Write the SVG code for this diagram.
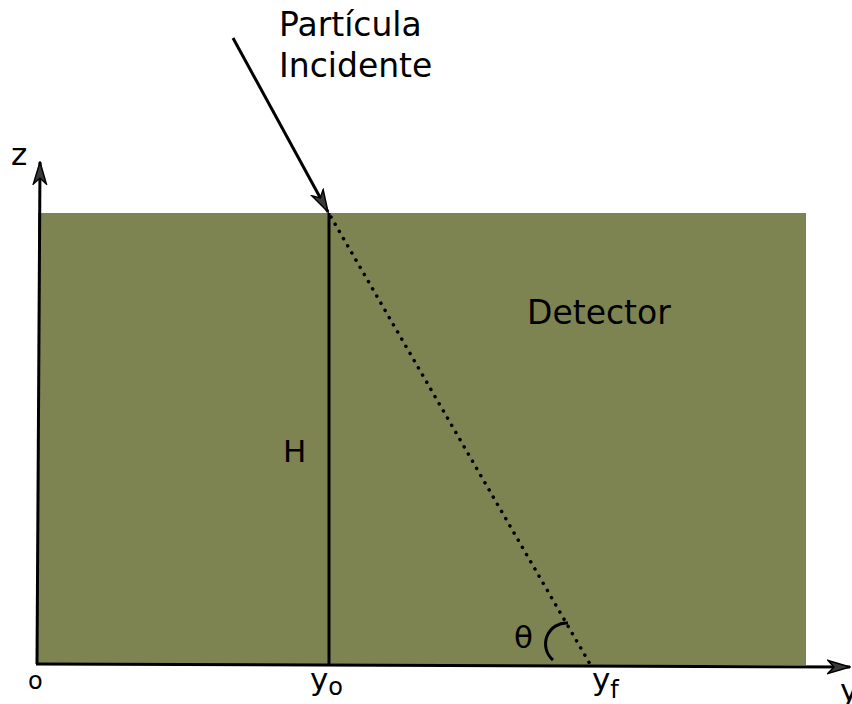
<svg xmlns="http://www.w3.org/2000/svg" width="852" height="704" viewBox="0 0 852 704">
<style>
text{font-family:"DejaVu Sans",sans-serif;fill:#000}
.ax{stroke:#000;stroke-width:3;fill:none}
</style>
<defs>
<marker id="ah" viewBox="0 0 24 16" refX="23" refY="8" markerWidth="24" markerHeight="16" markerUnits="userSpaceOnUse" orient="auto">
<path d="M1 1.5 L23 8 L1 14.5 L7 8 Z" fill="#3a3a3a" stroke="#000" stroke-width="1.5" stroke-linejoin="miter"/>
</marker>
</defs>
<rect width="852" height="704" fill="#fff"/>
<g id="detector">
<rect x="38" y="213" width="768" height="452" fill="#7d8452"/>
<text x="527" y="324" font-size="33">Detector</text>
</g>
<g id="connectors">
<line class="ax" x1="37" y1="664" x2="40" y2="162" marker-end="url(#ah)"/>
<line class="ax" x1="36" y1="664" x2="850" y2="667" marker-end="url(#ah)"/>
<line class="ax" x1="233" y1="38" x2="328" y2="212" marker-end="url(#ah)"/>
<line x1="329" y1="213" x2="329" y2="664" stroke="#000" stroke-width="3"/>
<line x1="331" y1="217" x2="590" y2="664" stroke="#000" stroke-width="3.5" stroke-linecap="round" stroke-dasharray="0.1 8.2"/>
<path d="M568 623 A21 21 0 0 0 553 660" class="ax"/>
</g>
<g id="labels">
<text x="279" y="36" font-size="33">Partícula</text>
<text x="279" y="77" font-size="33">Incidente</text>
<text x="11" y="165" font-size="31">z</text>
<text x="283" y="462" font-size="31">H</text>
<text x="514" y="648" font-size="31">θ</text>
<text x="28" y="689" font-size="24">o</text>
<text x="310" y="690" font-size="31">y<tspan font-size="24" dy="5">o</tspan></text>
<text x="592" y="690" font-size="31">y<tspan font-size="24" dy="8">f</tspan></text>
<text x="840" y="701" font-size="31">y</text>
</g>
</svg>
